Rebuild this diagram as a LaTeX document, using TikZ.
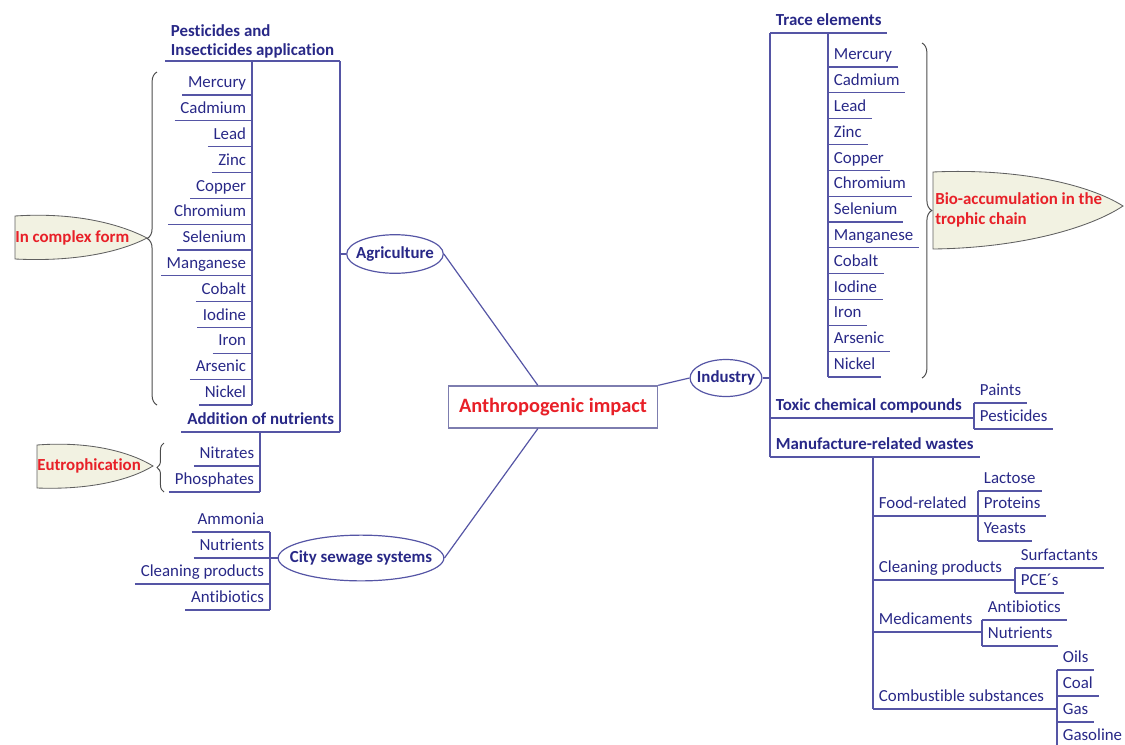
\documentclass[tikz,border=0pt]{standalone}
\usepackage{fontspec}
\setmainfont{Carlito}[Ligatures=NoCommon]
\usetikzlibrary{shapes.geometric,decorations.pathreplacing}
\definecolor{navy}{RGB}{40,40,135}
\definecolor{linec}{RGB}{85,85,165}
\definecolor{boxc}{RGB}{125,125,175}
\definecolor{impred}{RGB}{232,32,40}
\definecolor{notefill}{RGB}{242,242,226}
\tikzset{
  wire/.style={draw=linec, line width=0.85pt},
  ulined/.style={append after command={(\tikzlastnode.south west) edge[wire] (\tikzlastnode.south east)}},
  leaf/.style={text=navy, font=\fontsize{12}{13.5}\selectfont, inner xsep=4pt, inner ysep=2pt, ulined},
  item/.style={leaf, text height=9pt, text depth=3pt},
  head/.style={item, font=\bfseries\fontsize{12}{13.5}\selectfont},
  branch/.style={ellipse, draw=linec, line width=0.85pt, text=navy, font=\bfseries\fontsize{12}{14}\selectfont, text height=9pt, text depth=3pt},
  core/.style={draw=boxc, line width=1pt, text=impred, font=\bfseries\fontsize{14.5}{17}\selectfont, inner xsep=7.5pt, minimum height=29.8pt},
  note/.style={text=impred, font=\bfseries\fontsize{12}{14}\selectfont, inner sep=0pt, align=left},
  shell/.style={draw=gray!75!black, line width=0.6pt, fill=notefill},
  bracket/.style={draw=gray!60!black, line width=0.7pt, decorate, decoration={brace, amplitude=#1}}
}
\begin{document}
\begin{tikzpicture}[x=0.025cm,y=-0.025cm]
  \useasboundingbox (0,0) rectangle (1125,744);
  % centre and main branches
  \node[core] (imp) at (553,407) {Anthropogenic impact};
  \node[branch, inner xsep=-3.4pt, inner ysep=3.7pt] (agri) at (395,254) {Agriculture};
  \node[branch, inner xsep=-2.6pt, inner ysep=3.3pt] (ind) at (726,378) {Industry};
  \node[branch, inner xsep=-8.9pt, inner ysep=5.5pt] (sew) at (361,558) {City sewage systems};
  \draw[wire] (imp.125) -- (agri.east);
  \draw[wire] (imp.235) -- (sew.east);
  \draw[wire] (imp.north east) -- (ind.west);

  % agriculture
  \node[leaf, anchor=south east, align=left, font=\bfseries\fontsize{12}{13.5}\selectfont] (pest) at (340,61) {Pesticides and\\Insecticides application};
  \node[head, anchor=south east] (nutr) at (340,432) {Addition of nutrients};
  \draw[wire] (pest.south east) -- (nutr.south east);
  \draw[wire] (agri.west) -- (agri.west -| pest.south east);
  \foreach \el [count=\i] in {Mercury,Cadmium,Lead,Zinc,Copper,Chromium,Selenium,Manganese,Cobalt,Iodine,Iron,Arsenic,Nickel}
    \node[item, anchor=south east] (pm\i) at (252,{95+25.83*(\i-1)}) {\el};
  \draw[wire] (pest.south -| pm1.south east) -- (pm13.south east);
  \node[item, anchor=south east] (nit) at (260,466) {Nitrates};
  \node[item, anchor=south east] (pho) at (260,492) {Phosphates};
  \draw[wire] (nutr.south -| nit.south east) -- (pho.south east);

  % city sewage
  \foreach \el [count=\i] in {Ammonia,Nutrients,Cleaning products,Antibiotics}
    \node[item, anchor=south east] (sw\i) at (270,{532+26*(\i-1)}) {\el};
  \draw[wire] (sw1.south east) -- (sw4.south east);
  \draw[wire] (sew.west) -- (sew.west -| sw1.south east);

  % notes on the left
  \draw[shell] (15,216) .. controls (75,212) and (120,224) .. (147,238) .. controls (120,252) and (75,262) .. (15,259) -- cycle;
  \node[note, anchor=west] (cplx) at (15,238) {In complex form};
  \draw[bracket=7pt] (157,405) -- (157,72);
  \draw[shell] (37,445) .. controls (90,441) and (130,452) .. (153,466) .. controls (130,480) and (90,490) .. (37,488) -- cycle;
  \node[note, anchor=west] (eutro) at (37,466) {Eutrophication};
  \draw[bracket=5pt] (164,492) -- (164,443);

  % industry
  \node[head, anchor=south west] (trace) at (770,33) {Trace elements};
  \node[head, anchor=south west] (tox) at (770,418) {Toxic chemical compounds};
  \node[head, anchor=south west] (manu) at (770,457) {Manufacture-related wastes};
  \draw[wire] (trace.south west) -- (manu.south west);
  \draw[wire] (ind.east) -- (ind.east -| manu.south west);
  \foreach \el [count=\i] in {Mercury,Cadmium,Lead,Zinc,Copper,Chromium,Selenium,Manganese,Cobalt,Iodine,Iron,Arsenic,Nickel}
    \node[item, anchor=south west] (te\i) at (828,{67+25.83*(\i-1)}) {\el};
  \draw[wire] (trace.south -| te1.south west) -- (te13.south west);
  \node[item, anchor=south west] (pai) at (974,403) {Paints};
  \node[item, anchor=south west] (pes) at (974,429) {Pesticides};
  \draw[wire] (pai.south west) -- (pes.south west);
  \draw[wire] (tox.south east) -- (tox.south -| pai.south west);

  % note on the right
  \draw[bracket=7pt] (922,43) -- (922,378);
  \draw[shell] (933,172) .. controls (1020,168) and (1090,185) .. (1123,206) .. controls (1090,228) and (1020,248) .. (933,249) -- cycle;
  \node[note, anchor=west] (bioacc) at (935,210) {Bio-accumulation in the\\trophic chain};

  % manufacture-related wastes
  \node[item, anchor=south west] (food) at (873,516) {Food-related};
  \node[item, anchor=south west] (clean) at (873,580) {Cleaning products};
  \node[item, anchor=south west] (med) at (873,632) {Medicaments};
  \node[item, anchor=south west] (comb) at (873,709) {Combustible substances};
  \draw[wire] (manu.south -| food.south west) -- (comb.south west);
  \foreach \el [count=\i] in {Lactose,Proteins,Yeasts}
    \node[item, anchor=south west] (fd\i) at (978,{491+25*(\i-1)}) {\el};
  \draw[wire] (fd1.south west) -- (fd3.south west);
  \draw[wire] (food.south east) -- (food.south -| fd1.south west);
  \node[item, anchor=south west] (surf) at (1015,568) {Surfactants};
  \node[item, anchor=south west] (pce) at (1015,593) {PCE´s};
  \draw[wire] (surf.south west) -- (pce.south west);
  \draw[wire] (clean.south east) -- (clean.south -| surf.south west);
  \node[item, anchor=south west] (abio) at (982,620) {Antibiotics};
  \node[item, anchor=south west] (nutm) at (982,646) {Nutrients};
  \draw[wire] (abio.south west) -- (nutm.south west);
  \draw[wire] (med.south east) -- (med.south -| abio.south west);
  \foreach \el [count=\i] in {Oils,Coal,Gas,Gasoline}
    \node[item, anchor=south west] (fu\i) at (1057,{670+26*(\i-1)}) {\el};
  \draw[wire] (fu1.south west) -- (fu4.south west);
  \draw[wire] (comb.south east) -- (comb.south -| fu1.south west);
\end{tikzpicture}
\end{document}
